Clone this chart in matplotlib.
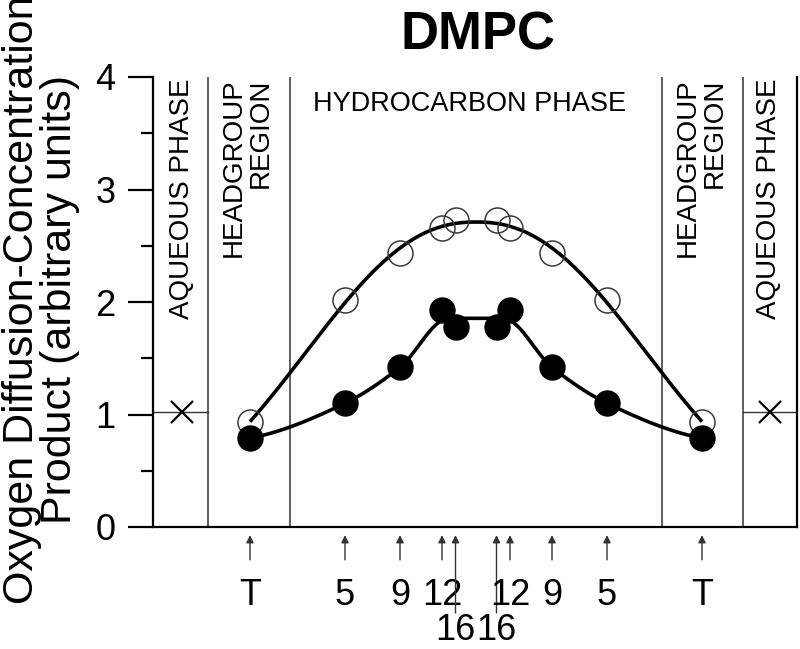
import numpy as np
import matplotlib
matplotlib.use("Agg")
import matplotlib.pyplot as plt
from matplotlib.transforms import blended_transform_factory

plt.rcParams['font.family'] = ['Liberation Sans', 'DejaVu Sans']

# ---------------- data ----------------
positions = [-226, -131, -76, -34, -20.5, 20.5, 34, 76, 131, 226]
pos_labels = ['T', '5', '9', '12', '16', '16', '12', '9', '5', 'T']
open_vals = [0.93, 2.02, 2.44, 2.66, 2.73, 2.73, 2.66, 2.44, 2.02, 0.93]
filled_vals = [0.79, 1.10, 1.42, 1.93, 1.78, 1.78, 1.93, 1.42, 1.10, 0.79]
aqueous_pos = [-294, 294]
aqueous_vals = [1.02, 1.02]
boundaries = [-268, -186, 186, 267]
region_names = ['AQUEOUS PHASE', 'HEADGROUP\nREGION', 'HYDROCARBON PHASE',
                'HEADGROUP\nREGION', 'AQUEOUS PHASE']
x_left, x_right = -323, 321


def pchip(x, y, xi):
    x = np.asarray(x, float); y = np.asarray(y, float)
    h = np.diff(x); delta = np.diff(y) / h
    n = len(x); d = np.zeros(n)
    for k in range(1, n - 1):
        if delta[k - 1] * delta[k] <= 0:
            d[k] = 0.0
        else:
            w1 = 2 * h[k] + h[k - 1]; w2 = h[k] + 2 * h[k - 1]
            d[k] = (w1 + w2) / (w1 / delta[k - 1] + w2 / delta[k])
    def endd(h0, h1, d0, d1):
        v = ((2 * h0 + h1) * d0 - h0 * d1) / (h0 + h1)
        if np.sign(v) != np.sign(d0):
            v = 0.0
        elif np.sign(d0) != np.sign(d1) and abs(v) > abs(3 * d0):
            v = 3 * d0
        return v
    d[0] = endd(h[0], h[1], delta[0], delta[1])
    d[-1] = endd(h[-1], h[-2], delta[-1], delta[-2])
    idx = np.clip(np.searchsorted(x, xi) - 1, 0, n - 2)
    t = (xi - x[idx]) / h[idx]
    h00 = 2 * t**3 - 3 * t**2 + 1; h10 = t**3 - 2 * t**2 + t
    h01 = -2 * t**3 + 3 * t**2; h11 = t**3 - t**2
    return h00 * y[idx] + h10 * h[idx] * d[idx] + h01 * y[idx + 1] + h11 * h[idx] * d[idx + 1]


def fit_bell(x, y):
    """least-squares fit of y = a*exp(-(|x|/s)^p) by grid search on s, p"""
    best = None
    ax_ = np.abs(x)
    for s in np.linspace(150, 320, 171):
        for p in np.linspace(1.5, 4.0, 101):
            g = np.exp(-(ax_ / s) ** p)
            a = np.dot(g, y) / np.dot(g, g)
            err = np.sum((a * g - y) ** 2)
            if best is None or err < best[0]:
                best = (err, a, s, p)
    return best[1:]


pos = np.array(positions, float)
ov = np.array(open_vals)
fv = np.array(filled_vals)
xs = np.linspace(pos.min(), pos.max(), 600)

# smooth bell-shaped fit for open circles
a_f, s_f, p_f = fit_bell(pos, ov)
open_curve = a_f * np.exp(-(np.abs(xs) / s_f) ** p_f)

# smooth curve for filled circles (12/16 pairs averaged)
kx = np.array([pos[0], pos[1], pos[2], (pos[3] + pos[4]) / 2,
               (pos[5] + pos[6]) / 2, pos[7], pos[8], pos[9]])
ky = np.array([fv[0], fv[1], fv[2], (fv[3] + fv[4]) / 2,
               (fv[5] + fv[6]) / 2, fv[7], fv[8], fv[9]])
filled_curve = pchip(kx, ky, xs)

# ---------------- figure ----------------
W, H = 800, 649
fig = plt.figure(figsize=(W / 100, H / 100), dpi=100)
ax = fig.add_axes([153 / W, 1 - 527 / H, (797 - 153) / W, (527 - 77) / H])
ax.set_xlim(x_left, x_right)
ax.set_ylim(0, 4)

ax.spines['top'].set_visible(False)
for s in ['left', 'bottom', 'right']:
    ax.spines[s].set_linewidth(1.6)
    ax.spines[s].set_color('black')

ax.set_xticks([])
ax.set_yticks([0, 1, 2, 3, 4])
ax.set_yticks([0.5, 1.5, 2.5, 3.5], minor=True)
ax.tick_params(axis='y', which='major', direction='out', length=18, width=1.6,
               labelsize=26, pad=9)
ax.tick_params(axis='y', which='minor', direction='out', length=9, width=1.6)

for b in boundaries:
    ax.axvline(b, color='#333333', lw=1.1, zorder=1)

# aqueous reference lines and X markers
ax.plot([x_left, boundaries[0]], [aqueous_vals[0]] * 2, color='#333333', lw=1.0)
ax.plot([boundaries[-1], x_right], [aqueous_vals[1]] * 2, color='#333333', lw=1.0)
ax.plot(aqueous_pos, aqueous_vals, linestyle='none', marker='x', ms=16,
        mew=1.6, color='black', zorder=4)

# curves
ax.plot(xs, open_curve, color='black', lw=2.6, zorder=2, solid_capstyle='butt')
ax.plot(xs, filled_curve, color='black', lw=2.6, zorder=2, solid_capstyle='butt')

ax.plot(pos, ov, linestyle='none', marker='o', ms=18, mfc='none',
        mec='#3a3a3a', mew=1.1, zorder=3)
ax.plot(pos, fv, linestyle='none', marker='o', ms=18, mfc='black',
        mec='black', zorder=4)

# region labels
ax.text(-294, 3.99, region_names[0], rotation=90, ha='center', va='top', fontsize=20)
ax.text(-229, 3.99, region_names[1], rotation=90, ha='center', va='top',
        fontsize=20, multialignment='right', linespacing=1.05)
ax.text(-6, 3.7, region_names[2], ha='center', va='baseline', fontsize=19.5)
ax.text(225, 3.99, region_names[3], rotation=90, ha='center', va='top',
        fontsize=20, multialignment='right', linespacing=1.05)
ax.text(293, 3.99, region_names[4], rotation=90, ha='center', va='top', fontsize=20)

# position arrows and labels
tr = blended_transform_factory(ax.transData, ax.transAxes)
for p, lab in zip(positions, pos_labels):
    long_arrow = lab == '16'
    tail = -0.191 if long_arrow else -0.073
    ax.annotate('', xy=(p, -0.018), xytext=(p, tail), xycoords=tr, textcoords=tr,
                arrowprops=dict(arrowstyle='-|>', lw=1.0, color='#333333',
                                mutation_scale=11, shrinkA=0, shrinkB=0),
                annotation_clip=False)
    ty = -0.250 if long_arrow else -0.1733
    ax.text(p, ty, lab, transform=tr, ha='center', va='baseline', fontsize=26,
            clip_on=False)

# y label
fig.text(41 / W, 1 - 300 / H, 'Oxygen Diffusion-Concentration\nProduct (arbitrary units)',
         rotation=90, ha='center', va='center', multialignment='center',
         fontsize=31, linespacing=0.95)

# title
fig.text(478 / W, 1 - 50 / H, 'DMPC', ha='center', va='baseline', fontsize=38,
         fontweight='bold')

fig.savefig('out.png', dpi=100)
